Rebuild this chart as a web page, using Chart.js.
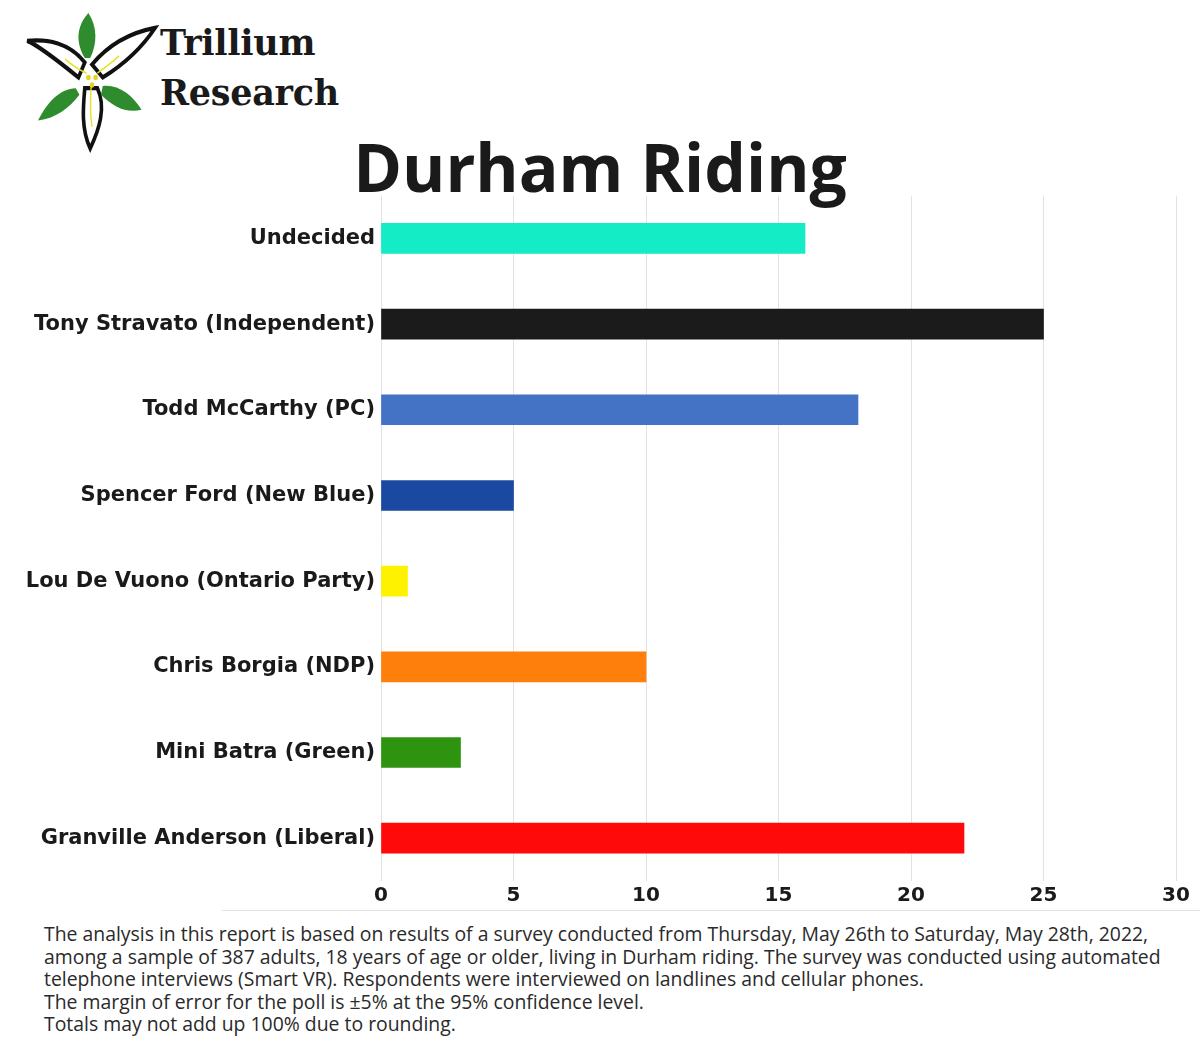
<!DOCTYPE html>
<html>
<head>
<meta charset="utf-8">
<script src="https://cdn.jsdelivr.net/npm/chart.js@4.4.1/dist/chart.umd.min.js"></script>
<style>
    html, body { margin: 0; padding: 0; background: #fff; }
    body { width: 1200px; height: 1056px; position: relative; overflow: hidden; font-family: 'Open Sans', sans-serif; }
    #logo { position: absolute; left: 20px; top: 0; width: 144px; height: 156px; }
    .logo-text { position: absolute; left: 160px; font-family: 'DejaVu Serif', serif; font-weight: bold; font-size: 35px; color: #1a1a1a; letter-spacing: -0.3px; }
    #title { position: absolute; left: 0; width: 1200px; top: 121px; text-align: center; font-family: 'Open Sans', sans-serif; font-weight: 700; font-size: 66px; color: #1a1a1a; }
    #chart-box { position: absolute; left: 0; top: 177px; width: 1200px; height: 740px; }
    #base-line { position: absolute; left: 222px; top: 910px; width: 978px; height: 1px; background: #dde3e8; }
    #notes { position: absolute; left: 44px; top: 923px; font-family: 'Open Sans', sans-serif; font-size: 19.4px; line-height: 22.5px; color: #2a2a2a; white-space: nowrap; }
</style>
</head>
<body>
    <svg id="logo" viewBox="0 0 160 145" preserveAspectRatio="none">
        <!-- petals -->
        <path d="M65 72 C40 55 20 42 8 38 C30 36 55 40 72 58 Z" fill="#fff" stroke="#111" stroke-width="4"/>
        <path d="M80 60 C100 40 125 30 150 26 C135 45 115 60 92 72 Z" fill="#fff" stroke="#111" stroke-width="4"/>
        <path d="M72 82 C70 100 68 120 78 138 C88 120 96 100 86 82 Z" fill="#fff" stroke="#111" stroke-width="4"/>
        <!-- leaves -->
        <path d="M72 54 C62 40 62 25 76 12 C86 25 86 40 78 54 Z" fill="#2e8b2e"/>
        <path d="M62 82 C45 82 30 95 20 112 C40 110 55 100 66 88 Z" fill="#2e8b2e"/>
        <path d="M92 80 C108 78 125 88 135 102 C118 106 102 98 90 88 Z" fill="#2e8b2e"/>
        <!-- stamens -->
        <path d="M50 55 C60 62 68 66 74 68 M110 52 C100 60 92 64 86 68 M79 80 C78 95 78 108 80 118" stroke="#e8e020" stroke-width="1.5" fill="none"/>
        <circle cx="76" cy="72" r="2.5" fill="#e8d020"/>
        <circle cx="84" cy="72" r="2.5" fill="#e8d020"/>
        <circle cx="80" cy="79" r="2.5" fill="#e8d020"/>
    </svg>
    <div class="logo-text" style="top: 22px;">Trillium</div>
    <div class="logo-text" style="top: 72px;">Research</div>
    <div id="title">Durham Riding</div>
    <div id="chart-box"><canvas id="poll-chart"></canvas></div>
    <div id="base-line"></div>
    <div id="notes">
        The analysis in this report is based on results of a survey conducted from Thursday, May 26th to Saturday, May 28th, 2022,<br>
        among a sample of 387 adults, 18 years of age or older, living in Durham riding. The survey was conducted using automated<br>
        telephone interviews (Smart VR). Respondents were interviewed on landlines and cellular phones.<br>
        The margin of error for the poll is ±5% at the 95% confidence level.<br>
        Totals may not add up 100% due to rounding.
    </div>

<script>
const candidates = [
    'Undecided',
    'Tony Stravato (Independent)',
    'Todd McCarthy (PC)',
    'Spencer Ford (New Blue)',
    'Lou De Vuono (Ontario Party)',
    'Chris Borgia (NDP)',
    'Mini Batra (Green)',
    'Granville Anderson (Liberal)'
];
const support = [16, 25, 18, 5, 1, 10, 3, 22];
const barColors = ['#14ecc6', '#1b1b1b', '#4472c4', '#1b48a0', '#fff200', '#ff7f0c', '#2e930f', '#ff0a0a'];
const xTicks = [0, 5, 10, 15, 20, 25, 30];

function renderPollChart(canvasId) {
    const canvas = document.querySelector(`#${canvasId}`);
    if (!canvas) return;

    canvas.chartInstance = new Chart(canvas, {
        type: 'bar',
        data: {
            labels: candidates,
            datasets: [{
                data: support,
                backgroundColor: barColors,
                borderWidth: 0,
                barThickness: 30
            }]
        },
        options: {
            indexAxis: 'y',
            responsive: true,
            maintainAspectRatio: false,
            animation: false,
            layout: {
                padding: { top: 0, right: 24, bottom: 0, left: 0 }
            },
            scales: {
                x: {
                    min: 0,
                    max: 30,
                    afterBuildTicks: axis => {
                        axis.ticks = xTicks.map(v => ({ value: v }));
                    },
                    afterFit: axis => { axis.height = 36; },
                    grid: { color: '#e2e2e2', lineWidth: 1, drawTicks: false },
                    border: { display: false },
                    ticks: {
                        padding: 3,
                        color: '#1a1a1a',
                        font: { family: 'DejaVu Sans', size: 20, weight: 'bold' }
                    }
                },
                y: {
                    afterFit: axis => { axis.width = 381; },
                    grid: { display: false, drawTicks: false },
                    border: { display: false },
                    ticks: {
                        padding: 6,
                        color: '#1a1a1a',
                        font: { family: 'DejaVu Sans', size: 21, weight: 'bold' }
                    }
                }
            },
            plugins: {
                legend: { display: false },
                tooltip: { enabled: false }
            }
        }
    });
}

renderPollChart('poll-chart');
</script>
</body>
</html>
